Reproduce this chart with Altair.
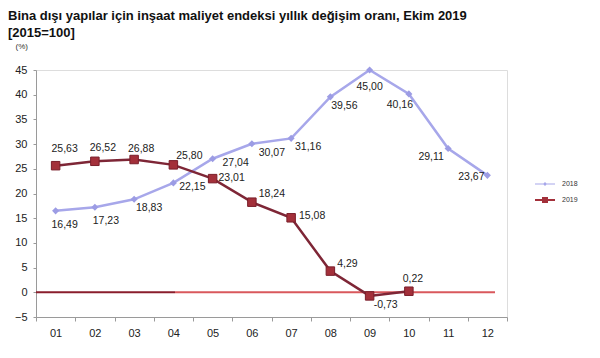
import altair as alt
import pandas as pd

# ---------------- data ----------------
months = ["01", "02", "03", "04", "05", "06", "07", "08", "09", "10", "11", "12"]
values_2018 = [16.49, 17.23, 18.83, 22.15, 27.04, 30.07, 31.16, 39.56, 45.00, 40.16, 29.11, 23.67]
values_2019 = [25.63, 26.52, 26.88, 25.80, 23.01, 18.24, 15.08, 4.29, -0.73, 0.22]
series_names = ["2018", "2019"]
y_ticks = [-5, 0, 5, 10, 15, 20, 25, 30, 35, 40, 45]

title_line1 = "Bina dışı yapılar için inşaat maliyet endeksi yıllık değişim oranı, Ekim 2019"
title_line2 = "[2015=100]"
unit_label = "(%)"

# ---------------- styles ----------------
C18_LINE = "#a7a7ea"
C18_MARK = "#9c9ce4"
C19_LINE = "#7e2636"
C19_MARK = "#a3303a"
FONT = "Liberation Sans"

# label offsets (dx, dy) per point
off_2018 = [(9, 14), (11, 14), (15, 9), (19, 4), (23, 4), (20, 9), (17, 9),
            (14, 9), (0, 17), (-9, 11), (-17, 9), (-16, 2)]
off_2019 = [(9, -17), (8, -13), (7, -11), (16, -9), (19, -1), (20, -8),
            (21, -2), (17, -7), (16, 9), (4, -12)]


def fmt(v):
    return f"{v:.2f}".replace(".", ",")


df18 = pd.DataFrame({"ay": months, "deger": values_2018, "yil": series_names[0]})
df19 = pd.DataFrame({"ay": months[:len(values_2019)], "deger": values_2019, "yil": series_names[1]})
df18["etiket"] = [fmt(v) for v in values_2018]
df19["etiket"] = [fmt(v) for v in values_2019]
df_all = pd.concat([df18, df19], ignore_index=True)

W, H = 471, 247

x_enc = alt.X(
    "ay:O",
    sort=months,
    scale=alt.Scale(type="band", domain=months, paddingInner=0, paddingOuter=0),
    axis=alt.Axis(
        title=None, labelAngle=0, tickBand="extent", domainColor="#9a9a9a",
        tickColor="#9a9a9a", tickSize=4, labelFontSize=11, labelPadding=6,
        labelColor="#222222", labelFont=FONT,
    ),
)
y_scale = alt.Scale(domain=[-5, 45], nice=False, zero=False)
y_axis = alt.Axis(
    title=unit_label, titleAngle=0, titleX=-21, titleY=-22, titleAlign="left",
    titleBaseline="alphabetic", titleFontSize=8, titleFontWeight="normal",
    titleFont=FONT, titleColor="#333333",
    values=y_ticks, grid=False, domainColor="#9a9a9a",
    tickColor="#9a9a9a", tickSize=3, labelPadding=6, labelFontSize=11,
    labelColor="#222222", labelFont=FONT, labelOverlap=False, labelFlush=False,
)
y_enc = alt.Y("deger:Q", scale=y_scale, axis=y_axis)

zero_df = pd.DataFrame({"deger": [0]})
zero_dark = alt.Chart(zero_df).mark_rule(color="#8a1e2c", strokeWidth=2).encode(
    y=y_enc, x=alt.value(0), x2=alt.value(139)
)
zero_light = alt.Chart(zero_df).mark_rule(color="#d9585c", strokeWidth=2).encode(
    y=y_enc, x=alt.value(139), x2=alt.value(459)
)

line18 = alt.Chart(df18).mark_line(color=C18_LINE, strokeWidth=2.5).encode(x=x_enc, y=y_enc)
line19 = alt.Chart(df19).mark_line(color=C19_LINE, strokeWidth=2.5).encode(x=x_enc, y=y_enc)
pts18 = alt.Chart(df18).mark_point(shape="diamond", filled=True, size=50, color=C18_MARK, opacity=1).encode(x=x_enc, y=y_enc)
pts19 = alt.Chart(df19).mark_point(shape="square", filled=True, size=72, color=C19_MARK,
                                   stroke="#7a1e2a", strokeWidth=1, opacity=1).encode(x=x_enc, y=y_enc)

# legend (hidden layer providing a real legend with line+marker symbols)
path18 = "M-1,-0.05H1V0.05H-1Z M0,-0.2L0.2,0L0,0.2L-0.2,0Z"
path19 = "M-1,-0.1H1V0.1H-1Z M-0.3,-0.3H0.3V0.3H-0.3Z"
legend = alt.Legend(
    title=None, orient="none", legendX=498, legendY=103, padding=0,
    symbolSize=400, symbolOpacity=1, labelFontSize=7, labelColor="#333333",
    labelFont=FONT, labelOffset=6, rowPadding=0,
)
legend_layer = alt.Chart(df_all).mark_point(filled=True, opacity=0).encode(
    x=x_enc, y=y_enc,
    color=alt.Color("yil:N", scale=alt.Scale(domain=series_names, range=[C18_LINE, C19_MARK]), legend=legend),
    shape=alt.Shape("yil:N", scale=alt.Scale(domain=series_names, range=[path18, path19]), legend=legend),
)

text_layers = []
for df, offs in ((df18, off_2018), (df19, off_2019)):
    for m, (dx, dy) in zip(df["ay"], offs):
        text_layers.append(
            alt.Chart(df).transform_filter(alt.datum.ay == m)
            .mark_text(dx=dx, dy=dy, fontSize=10.5, font=FONT, color="#222222")
            .encode(x=x_enc, y=y_enc, text="etiket:N")
        )

chart = alt.layer(
    zero_dark, zero_light, line18, line19, pts18, pts19, legend_layer, *text_layers
).properties(
    width=W, height=H,
    autosize=alt.AutoSizeParams(type="none"),
    padding={"left": 28, "top": 62, "right": 85, "bottom": 33},
    title=alt.Title(
        text=[title_line1, title_line2], anchor="start", frame="group", dx=-28,
        fontSize=13, fontWeight="bold", font=FONT, color="#111111",
        lineHeight=17, baseline="alphabetic", offset=0, dy=8,
    ),
).configure_view(stroke=None).configure(background="white")

chart.save("out.html", embed_options={"renderer": "svg", "actions": False})
